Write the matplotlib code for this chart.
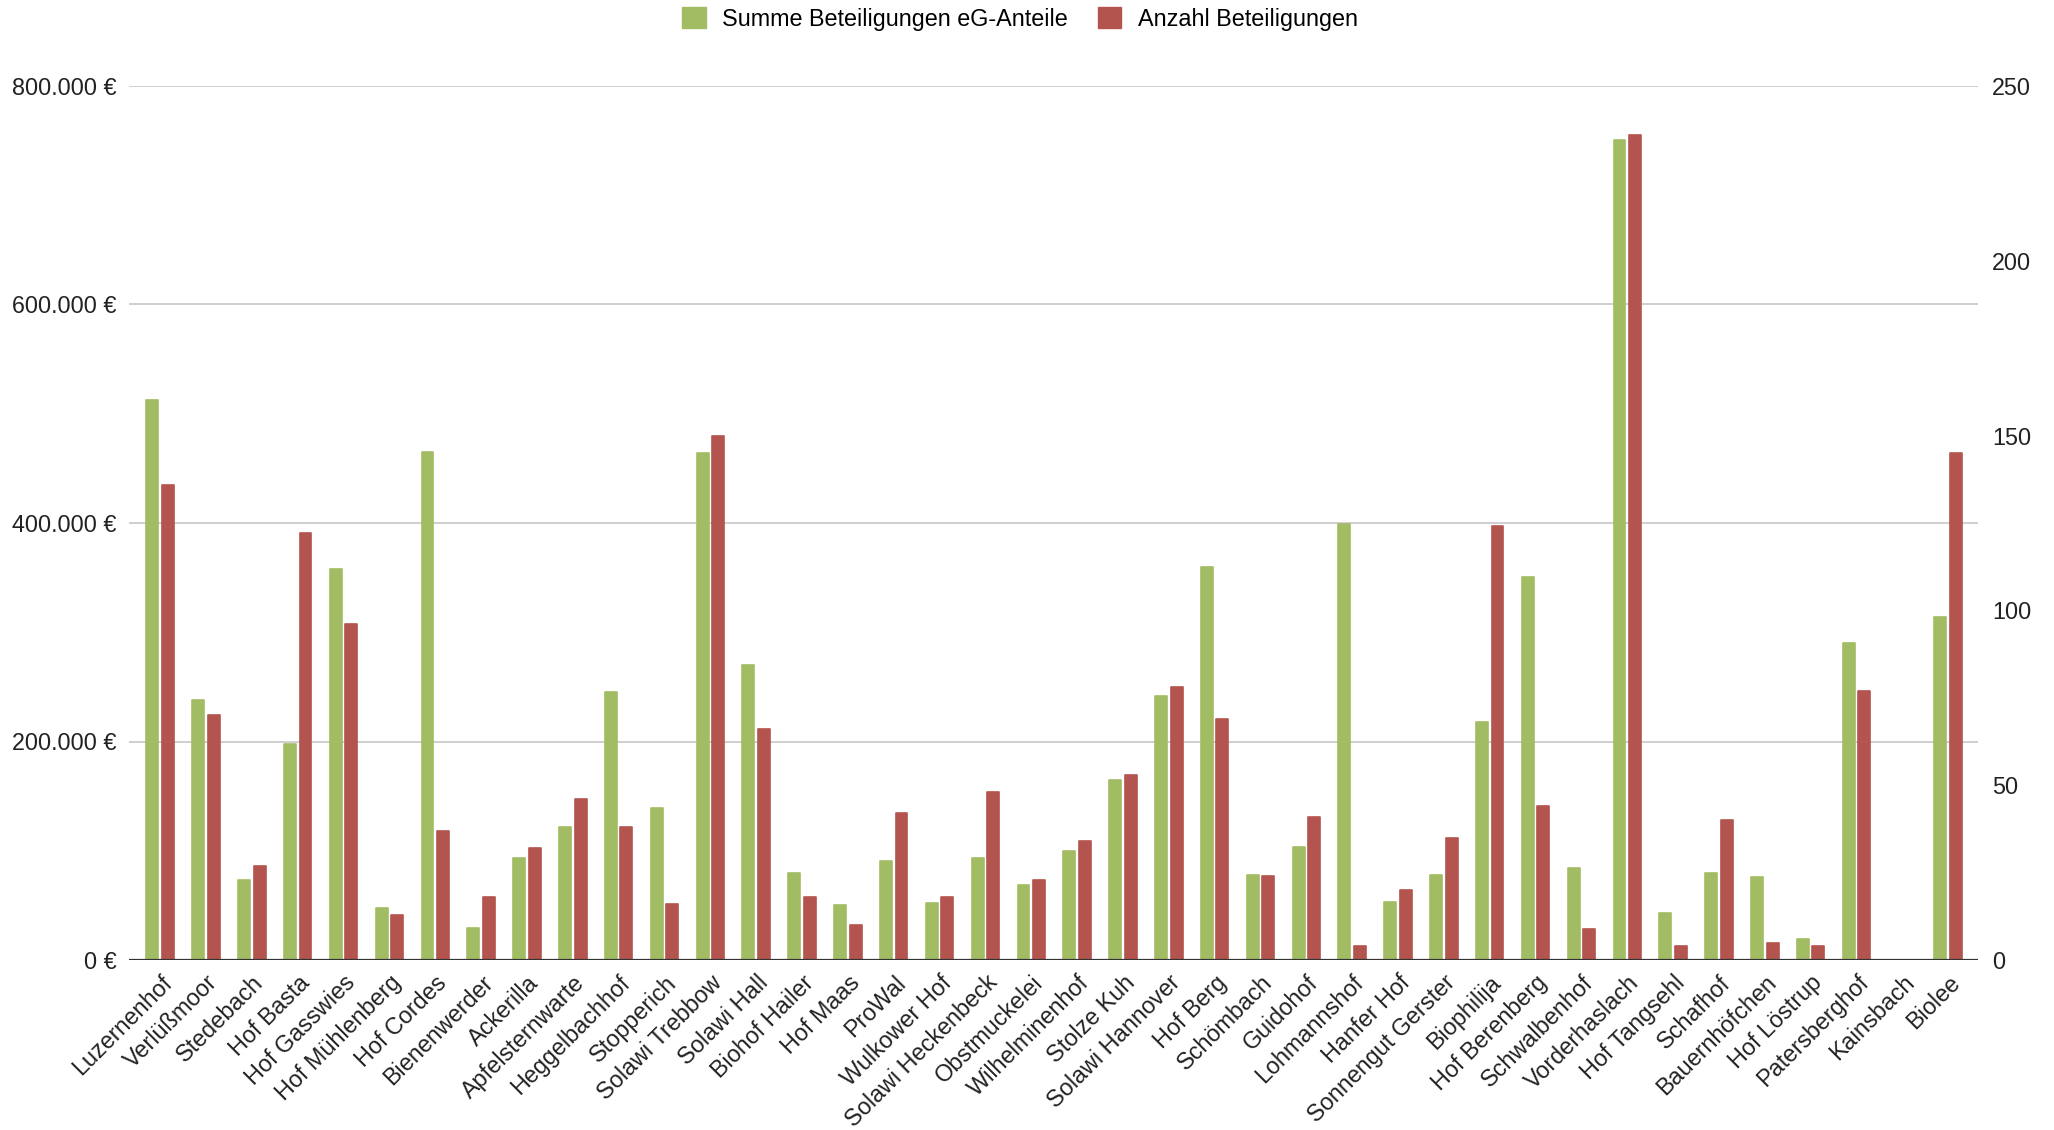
import numpy as np
import matplotlib
matplotlib.use("Agg")
import matplotlib.pyplot as plt
from matplotlib.patches import Patch
from matplotlib.ticker import FuncFormatter, MultipleLocator

plt.rcParams['font.family'] = ['Liberation Sans', 'DejaVu Sans']

# data
farms = ["Luzernenhof", "Verlüßmoor", "Stedebach", "Hof Basta", "Hof Gasswies",
         "Hof Mühlenberg", "Hof Cordes", "Bienenwerder", "Ackerilla", "Apfelsternwarte",
         "Heggelbachhof", "Stopperich", "Solawi Trebbow", "Solawi Hall", "Biohof Hailer",
         "Hof Maas", "ProWal", "Wulkower Hof", "Solawi Heckenbeck", "Obstmuckelei",
         "Wilhelminenhof", "Stolze Kuh", "Solawi Hannover", "Hof Berg", "Schömbach",
         "Guidohof", "Lohmannshof", "Hanfer Hof", "Sonnengut Gerster", "Biophilija",
         "Hof Berenberg", "Schwalbenhof", "Vorderhaslach", "Hof Tangsehl", "Schafhof",
         "Bauernhöfchen", "Hof Löstrup", "Patersberghof", "Kainsbach", "Biolee"]

summe_anteile = [513000, 238000, 73000, 198000, 358000,
                 48000, 465000, 29000, 93000, 122000,
                 245000, 139000, 464000, 270000, 80000,
                 50000, 91000, 52000, 93000, 69000,
                 100000, 165000, 242000, 360000, 78000,
                 103000, 399000, 53000, 78000, 218000,
                 351000, 84000, 751000, 43000, 80000,
                 76000, 19000, 290000, 0, 314000]

anzahl = [136, 70, 27, 122, 96,
          13, 37, 18, 32, 46,
          38, 16, 150, 66, 18,
          10, 42, 18, 48, 23,
          34, 53, 78, 69, 24,
          41, 4, 20, 35, 124,
          44, 9, 236, 4, 40,
          5, 4, 77, 0, 145]

GREEN = "#a2bc64"
RED = "#b4544f"
FS = 16.8

fig = plt.figure(figsize=(20.54, 11.3), dpi=100)
ax = fig.add_axes([129 / 2054, 1 - 960 / 1130, (1978 - 129) / 2054, (960 - 86) / 1130])
ax2 = ax.twinx()

x = np.arange(len(farms))
w = 0.26
off = 0.17
ax.bar(x - off, summe_anteile, width=w, color=GREEN, edgecolor=GREEN,
       linewidth=1.2, joinstyle='round', zorder=3)
ax2.bar(x + off, anzahl, width=w, color=RED, edgecolor=RED,
        linewidth=1.2, joinstyle='round', zorder=3)

ax.set_xlim(-0.68, len(farms) - 1 + 0.65)
ax.set_ylim(0, 800000)
ax2.set_ylim(0, 250)
ax.yaxis.set_major_locator(MultipleLocator(200000))
ax2.yaxis.set_major_locator(MultipleLocator(50))
ax.yaxis.set_major_formatter(FuncFormatter(
    lambda v, p: "{:,.0f} €".format(v).replace(",", ".")))

ax.set_axisbelow(True)
ax.grid(axis='y', color='#cccccc', linewidth=1.3)
ax2.axhline(0, color='#333333', linewidth=1.6, zorder=5)

for a in (ax, ax2):
    for s in a.spines.values():
        s.set_visible(False)
    a.tick_params(length=0, labelsize=FS, colors='#222222')
ax.tick_params(axis='y', pad=9)
ax2.tick_params(axis='y', pad=10)

ax.set_xticks(x)
ax.set_xticklabels(farms, rotation=45, ha='right', rotation_mode='anchor', fontsize=FS)
ax.tick_params(axis='x', pad=8)

handles = [Patch(facecolor=GREEN, edgecolor=GREEN, label="Summe Beteiligungen eG-Anteile"),
           Patch(facecolor=RED, edgecolor=RED, label="Anzahl Beteiligungen")]
fig.legend(handles=handles, loc='upper center', bbox_to_anchor=(1020 / 2054, 1.012),
           ncol=2, frameon=False, fontsize=FS, handlelength=1.0, handleheight=1.0,
           handletextpad=0.7, columnspacing=1.3)

fig.savefig("out.png", dpi=100, facecolor='white')
